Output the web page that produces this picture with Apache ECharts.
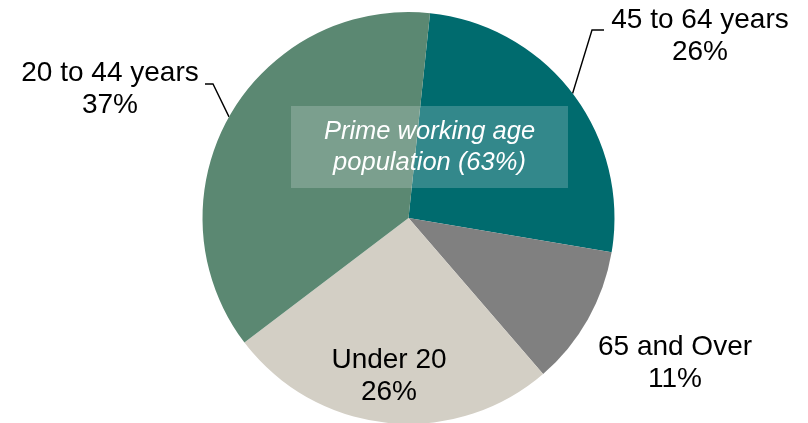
<!DOCTYPE html>
<html>
<head>
<meta charset="utf-8">
<script src="https://cdn.jsdelivr.net/npm/echarts@6/dist/echarts.min.js"></script>
<style>
  html, body { margin: 0; padding: 0; background: #fff; }
  #chart { width: 808px; height: 423px; }
</style>
</head>
<body>
<div id="chart"></div>
<script>
// Age groups, listed clockwise from the top of the pie
const ageGroups = ['45 to 64 years', '65 and Over', 'Under 20', '20 to 44 years'];
const sharePct = [26, 11, 26, 37];
const sliceColors = ['#006B6E', '#808080', '#D3CFC5', '#5B8872'];
const primeNote = 'Prime working age\npopulation (63%)';

// Pie geometry (px)
const CX = 408.5, CY = 218, R = 206;

// Label anchor (centre of the text block) and leader-line elbow/end for each group
const labelSpots = [
  { x: 700, y: 36, elbow: [592, 30], end: [604, 30] },
  { x: 675, y: 363 },
  { x: 389, y: 376 },
  { x: 110, y: 89, elbow: [213, 84], end: [205, 84] }
];

const chart = echarts.init(document.getElementById('chart'), null, { renderer: 'canvas' });

const pieData = ageGroups.map((name, i) => ({
  name: name,
  value: sharePct[i],
  itemStyle: { color: sliceColors[i] },
  labelLine: { show: !!labelSpots[i].elbow }
}));

chart.setOption({
  animation: false,
  series: [{
    type: 'pie',
    z: 2,
    center: [CX, CY],
    radius: R,
    startAngle: 84,
    clockwise: true,
    avoidLabelOverlap: false,
    silent: true,
    data: pieData,
    itemStyle: { borderWidth: 0 },
    label: {
      show: true,
      position: 'outside',
      formatter: '{b}\n{c}%',
      color: '#000',
      fontFamily: '"Liberation Sans", Arial, sans-serif',
      fontSize: 28,
      lineHeight: 32
    },
    labelLine: {
      length: 20,
      length2: 10,
      lineStyle: { color: '#000', width: 1.4 }
    },
    labelLayout: function (p) {
      const spot = labelSpots[p.dataIndex];
      const out = { x: spot.x, y: spot.y, align: 'center', verticalAlign: 'middle' };
      if (spot.elbow && p.labelLinePoints) {
        const e = p.labelLinePoints[0];
        out.labelLinePoints = [[e[0], e[1]], spot.elbow, spot.end];
      }
      return out;
    }
  }],
  // Translucent note box over the two working-age slices
  graphic: [{
    type: 'group',
    z: 100,
    left: 291,
    top: 106,
    children: [{
      type: 'rect',
      z: 100,
      shape: { x: 0, y: 0, width: 277, height: 82 },
      style: { fill: 'rgba(255,255,255,0.2)' }
    }, {
      type: 'text',
      z: 101,
      x: 138.5,
      y: 41,
      style: {
        text: primeNote,
        fill: '#fff',
        font: 'italic 25.5px "Liberation Sans", Arial, sans-serif',
        lineHeight: 31,
        align: 'center',
        verticalAlign: 'middle'
      }
    }]
  }]
});
</script>
</body>
</html>
